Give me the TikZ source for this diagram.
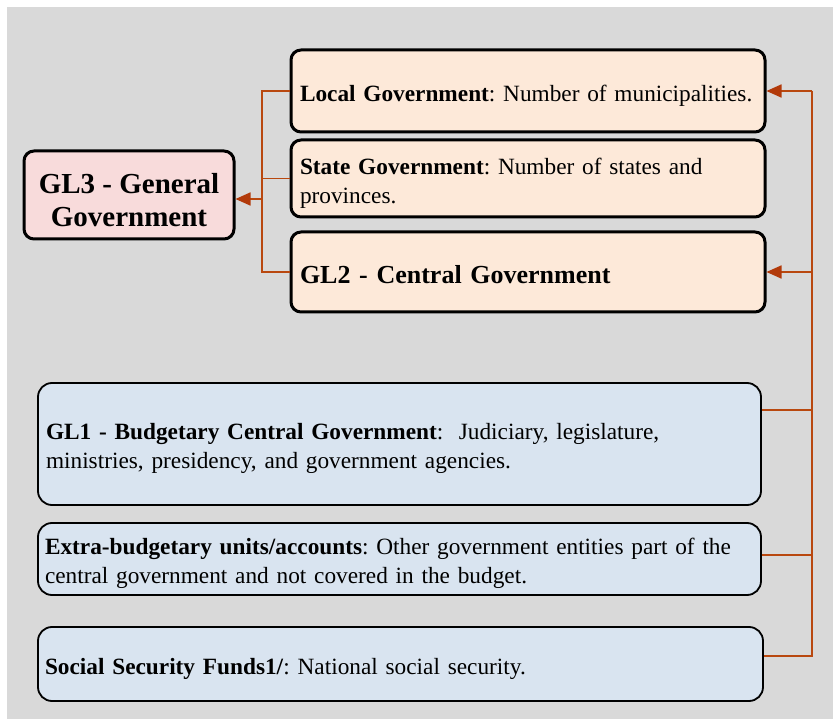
\documentclass[tikz,border=0pt]{standalone}
\usepackage{fontspec}
\setmainfont{Liberation Serif}
\usetikzlibrary{arrows.meta}
\definecolor{bggray}{HTML}{D9D9D9}
\definecolor{peach}{HTML}{FDE9D9}
\definecolor{gpink}{HTML}{F8DBDB}
\definecolor{lblue}{HTML}{D9E4F0}
\definecolor{connc}{HTML}{B9480F}
\definecolor{tipc}{HTML}{B23A0A}
\newcommand\mystrut[1]{\rule{0pt}{#1}}
\begin{document}
\frenchspacing
\begin{tikzpicture}[x=1pt,y=-1pt,
  topbox/.style={draw=black, line width=3pt, rounded corners=10pt, fill=peach,
    inner xsep=9pt, inner ysep=0pt, align=left, font=\fontsize{23.3}{29}\selectfont},
  gbox/.style={draw=black, line width=3pt, rounded corners=10pt, fill=gpink,
    inner sep=0pt, align=center, font=\fontsize{29}{33}\selectfont\bfseries},
  lowbox/.style={draw=black, line width=1.8pt, rounded corners=14pt, fill=lblue,
    inner xsep=8pt, inner ysep=0pt, align=left, font=\fontsize{23.3}{29}\selectfont},
  conn/.style={draw=connc, line width=1.7pt},
  arr/.style={conn, -{Triangle[length=15pt,width=13pt,color=tipc]}}
]
\useasboundingbox (0,0) rectangle (833,719);
\fill[white] (0,0) rectangle (833,719);
\fill[bggray] (7,7) rectangle (833,719);

\node[topbox, minimum width=474pt, minimum height=82pt, text width=456pt] (local) at (528,91)
  {\mystrut{26pt}\textbf{Local Government}: Number of municipalities.};
\node[topbox, minimum width=474pt, minimum height=77pt, text width=456pt] (state) at (528,178.5)
  {\mystrut{26pt}\textbf{State Government}: Number of states and\\provinces.};
\node[topbox, minimum width=474pt, minimum height=80pt, text width=456pt,
  font=\fontsize{26}{29}\selectfont\bfseries] (gl2) at (528,272)
  {\mystrut{24pt}GL2 - Central Government};
\node[gbox, minimum width=210pt, minimum height=88pt] (gl3) at (129,195)
  {\mystrut{31pt}GL3 - General\\Government};

\node[lowbox, minimum width=723pt, minimum height=122pt, text width=707pt] (gl1) at (399.5,444)
  {\mystrut{26pt}\textbf{GL1 - Budgetary Central Government}:\ \ Judiciary, legislature,\\ministries, presidency, and government agencies.};
\node[lowbox, minimum width=723pt, minimum height=72pt, text width=709pt, inner xsep=7pt] (extra) at (399.5,559)
  {\mystrut{26pt}\textbf{Extra-budgetary units/accounts}: Other government entities part of the\\central government and not covered in the budget.};
\node[lowbox, minimum width=725pt, minimum height=74pt, text width=711pt, inner xsep=7pt] (social) at (400.5,664)
  {\mystrut{26pt}\textbf{Social Security Funds1/}: National social security.};

% left bus
\coordinate (lbtop) at (262,91);
\coordinate (lbmid) at (262,199);
\coordinate (lbbot) at (262,272);
\draw[conn] (local.west) -- (lbtop) -- (lbbot) -- (gl2.west);
\draw[conn] (state.west) -- (state.west -| lbtop);
\draw[arr] (lbmid) -- (gl3.east |- lbmid);

% right bus
\coordinate (rbtop) at (812,91);
\coordinate (rbbot) at (812,656);
\draw[conn] (rbtop) -- (rbbot) -- (social.east |- rbbot);
\draw[arr] (rbtop) -- (local.east);
\draw[arr] (gl2.east -| rbtop) -- (gl2.east);
\draw[conn] (gl1.east |- 0,410) -- (rbtop |- 0,410);
\draw[conn] (extra.east |- 0,555) -- (rbtop |- 0,555);
\end{tikzpicture}
\end{document}
